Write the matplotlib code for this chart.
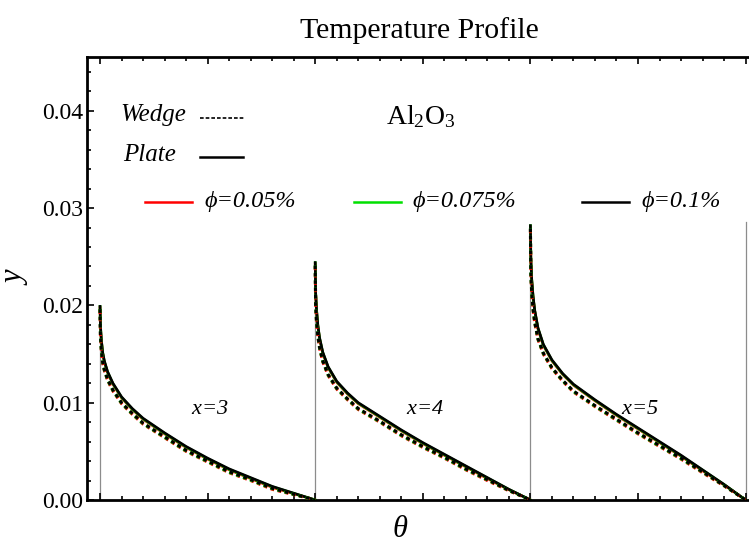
import matplotlib
matplotlib.use("Agg")
import matplotlib.pyplot as plt
from matplotlib.ticker import MultipleLocator, NullFormatter

plt.rcParams['font.family'] = ['Liberation Serif', 'DejaVu Serif']
plt.rcParams['mathtext.fontset'] = 'custom'
plt.rcParams['mathtext.rm'] = 'Liberation Serif'
plt.rcParams['mathtext.it'] = 'Liberation Serif:italic'

# theta inside one panel (each panel spans one unit on the shared axis)
theta = [0, 0.002, 0.006, 0.012, 0.02, 0.035, 0.06, 0.1, 0.15, 0.2,
         0.3, 0.4, 0.5, 0.6, 0.7, 0.8, 0.9, 1.0]

phis = ["0.05", "0.075", "0.1"]
phi_colors = ["#ff0000", "#00e000", "#000000"]
panels = ["3", "4", "5"]

# rows: phi = 0.05, 0.075, 0.1
plate_x3 = [
    [0.0198, 0.0178, 0.0164, 0.0151, 0.0142, 0.0131, 0.0119, 0.0105, 0.0093, 0.0083, 0.0068, 0.0054, 0.0042, 0.0031, 0.0022, 0.0013, 0.00065, 0.0],
    [0.0199, 0.01785, 0.01645, 0.01515, 0.01425, 0.01315, 0.01195, 0.01055, 0.00935, 0.00835, 0.00685, 0.00545, 0.00425, 0.00315, 0.00225, 0.00137, 0.00068, 0.0],
    [0.0199, 0.0179, 0.0165, 0.0152, 0.0143, 0.0132, 0.0120, 0.0106, 0.0094, 0.0084, 0.0069, 0.0055, 0.0043, 0.0032, 0.0023, 0.0014, 0.0007, 0.0],
]
wedge_x3 = [
    [0.0195, 0.0168, 0.0154, 0.0141, 0.0133, 0.0123, 0.0112, 0.0099, 0.0088, 0.0078, 0.0064, 0.0050, 0.0039, 0.0028, 0.0020, 0.0011, 0.00055, 0.0],
    [0.0196, 0.01685, 0.01545, 0.01415, 0.01335, 0.01235, 0.01125, 0.00995, 0.00885, 0.00785, 0.00645, 0.00505, 0.00395, 0.00285, 0.00205, 0.00117, 0.00058, 0.0],
    [0.0196, 0.0169, 0.0155, 0.0142, 0.0134, 0.0124, 0.0113, 0.0100, 0.0089, 0.0079, 0.0065, 0.0051, 0.0040, 0.0029, 0.0021, 0.0012, 0.0006, 0.0],
]
plate_x4 = [
    [0.0243, 0.0212, 0.0195, 0.0179, 0.0166, 0.0151, 0.0136, 0.0121, 0.0109, 0.0099, 0.0085, 0.0071, 0.0058, 0.0046, 0.0034, 0.0022, 0.00105, 0.0],
    [0.0244, 0.02125, 0.01955, 0.01795, 0.01665, 0.01515, 0.01365, 0.01215, 0.01095, 0.00995, 0.00855, 0.00715, 0.00585, 0.00465, 0.00345, 0.00227, 0.00108, 0.0],
    [0.0244, 0.0213, 0.0196, 0.0180, 0.0167, 0.0152, 0.0137, 0.0122, 0.0110, 0.0100, 0.0086, 0.0072, 0.0059, 0.0047, 0.0035, 0.0023, 0.0011, 0.0],
]
wedge_x4 = [
    [0.0240, 0.0200, 0.0183, 0.0168, 0.0156, 0.0142, 0.0128, 0.0114, 0.0103, 0.0093, 0.0080, 0.0066, 0.0054, 0.0043, 0.0031, 0.0020, 0.00095, 0.0],
    [0.0241, 0.02005, 0.01835, 0.01685, 0.01565, 0.01425, 0.01285, 0.01145, 0.01035, 0.00935, 0.00805, 0.00665, 0.00545, 0.00435, 0.00315, 0.00207, 0.00098, 0.0],
    [0.0241, 0.0201, 0.0184, 0.0169, 0.0157, 0.0143, 0.0129, 0.0115, 0.0104, 0.0094, 0.0081, 0.0067, 0.0055, 0.0044, 0.0032, 0.0021, 0.0010, 0.0],
]
plate_x5 = [
    [0.0281, 0.0246, 0.0226, 0.0209, 0.0194, 0.0176, 0.0159, 0.0143, 0.0129, 0.0118, 0.0102, 0.0087, 0.0073, 0.0059, 0.0045, 0.0030, 0.00155, 0.0],
    [0.0282, 0.02465, 0.02265, 0.02095, 0.01945, 0.01765, 0.01595, 0.01435, 0.01295, 0.01185, 0.01025, 0.00875, 0.00735, 0.00595, 0.00455, 0.00307, 0.00158, 0.0],
    [0.0282, 0.0247, 0.0227, 0.0210, 0.0195, 0.0177, 0.0160, 0.0144, 0.0130, 0.0119, 0.0103, 0.0088, 0.0074, 0.0060, 0.0046, 0.0031, 0.0016, 0.0],
]
wedge_x5 = [
    [0.0278, 0.0233, 0.0212, 0.0196, 0.0182, 0.0165, 0.0150, 0.0135, 0.0122, 0.0111, 0.0096, 0.0082, 0.0068, 0.0055, 0.0042, 0.0028, 0.00145, 0.0],
    [0.0279, 0.02335, 0.02125, 0.01965, 0.01825, 0.01655, 0.01505, 0.01355, 0.01225, 0.01115, 0.00965, 0.00825, 0.00685, 0.00555, 0.00425, 0.00287, 0.00148, 0.0],
    [0.0279, 0.0234, 0.0213, 0.0197, 0.0183, 0.0166, 0.0151, 0.0136, 0.0123, 0.0112, 0.0097, 0.0083, 0.0069, 0.0056, 0.0043, 0.0029, 0.0015, 0.0],
]
plate = [plate_x3, plate_x4, plate_x5]
wedge = [wedge_x3, wedge_x4, wedge_x5]

# height of the thin grey axis line drawn at each panel start
panel_axis_top = [0.0199, 0.0244, 0.0282, 0.0286]

fig = plt.figure(figsize=(7.49, 5.44), dpi=100)
ax = fig.add_axes([0.1162, 0.0809, 0.8879, 0.8143])

for k in range(4):
    ax.plot([k, k], [0, panel_axis_top[k]], color="#8c8c8c", lw=0.9, zorder=1)

for p in range(3):
    xs = [p + t for t in theta]
    for i in range(3):
        ax.plot(xs, plate[p][i], color=phi_colors[i], lw=1.9, zorder=2 + i)
    for i in range(3):
        ax.plot(xs, wedge[p][i], color=phi_colors[i], lw=2.2,
                linestyle=(0, (1.2, 1.2)), zorder=5 + i)
    ax.text(p + 0.51, 0.0093, "$x$=" + panels[p], fontsize=16,
            style="italic", ha="center", va="center")

ax.set_xlim(-0.0604, 3.030)
ax.set_ylim(0, 0.04553)

ax.xaxis.set_major_locator(MultipleLocator(0.5))
ax.xaxis.set_minor_locator(MultipleLocator(0.1))
ax.xaxis.set_major_formatter(NullFormatter())
ax.yaxis.set_minor_locator(MultipleLocator(0.002))
ax.set_yticks([0, 0.01, 0.02, 0.03, 0.04])
ax.set_yticklabels(["0.00", "0.01", "0.02", "0.03", "0.04"])
ax.tick_params(which="both", direction="in", top=True, right=False, width=1.2)
ax.tick_params(which="major", length=5, labelsize=17, pad=3)
ax.tick_params(which="minor", length=3)
for s in ax.spines.values():
    s.set_linewidth(2.0)

ax.set_title("Temperature Profile", fontsize=21.5, pad=14)
ax.set_ylabel("y", fontsize=22, style="italic", labelpad=8)
ax.set_xlabel("\u03b8", fontsize=22, style="italic", labelpad=4)
ax.xaxis.set_label_coords(0.471, -0.035, transform=ax.transAxes)
ax.xaxis.label.set_va("top")

# legend block, drawn as text and line samples in axes coordinates
ax.text(0.050, 0.869, "Wedge", transform=ax.transAxes, fontsize=18,
        style="italic", ha="left", va="center")
ax.text(0.054, 0.779, "Plate", transform=ax.transAxes, fontsize=18,
        style="italic", ha="left", va="center")
ax.plot([0.170, 0.238], [0.862, 0.862], transform=ax.transAxes,
        color="black", lw=1.2, linestyle=(0, (2.2, 1.2)))
ax.plot([0.170, 0.235], [0.774, 0.774], transform=ax.transAxes,
        color="black", lw=1.8)
ax.text(0.502, 0.866, "Al$_2$O$_3$", transform=ax.transAxes, fontsize=20,
        ha="center", va="center")

leg_line_x = [0.087, 0.401, 0.744]
for i in range(3):
    x0 = leg_line_x[i]
    ax.plot([x0, x0 + 0.071], [0.673, 0.673], transform=ax.transAxes,
            color=phi_colors[i], lw=1.8)
    ax.text(x0 + 0.089, 0.673, "\u03d5=" + phis[i] + "%",
            transform=ax.transAxes, fontsize=17.5, style="italic",
            ha="left", va="center")

fig.savefig("out.png", dpi=100)
